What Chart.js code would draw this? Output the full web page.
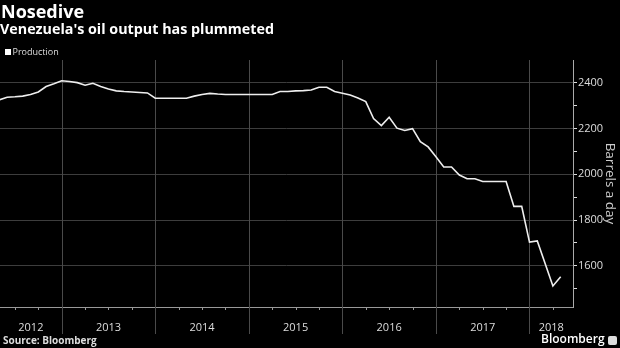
<!DOCTYPE html>
<html>
<head>
<meta charset="utf-8">
<script src="https://cdn.jsdelivr.net/npm/chart.js@4.4.1/dist/chart.umd.min.js"></script>
<style>
  html, body { margin: 0; padding: 0; background: #000; }
  #wrap { position: relative; width: 620px; height: 348px; overflow: hidden; background: #000; font-family: 'Open Sans', sans-serif; }
  #wrap canvas { position: absolute; left: 0; top: 0; }
  .txt { position: absolute; white-space: nowrap; line-height: 1; }
  #title { left: 1px; top: 2.3px; font-size: 18px; font-weight: 700; color: #fff; }
  #subtitle { left: 0px; top: 22.3px; font-size: 14.3px; font-weight: 700; color: #fff; }
  #legend { left: 12.5px; top: 47px; font-size: 9px; color: #ddd; }
  #legendBox { position: absolute; left: 4.5px; top: 49px; width: 6px; height: 6px; background: #fff; }
  #source { left: 3px; top: 334.6px; font-size: 10px; font-weight: 700; color: #ddd; }
  #brand { left: 541px; top: 332.5px; font-size: 12px; font-weight: 600; color: #fff; }
  #brandIcon { position: absolute; left: 608px; top: 336px; width: 9px; height: 9px; background: #ddd; border-radius: 2px; }
</style>
</head>
<body>
<div id="wrap">
  <canvas id="grafico" width="620" height="348"></canvas>
  <div class="txt" id="title">Nosedive</div>
  <div class="txt" id="subtitle">Venezuela's oil output has plummeted</div>
  <div id="legendBox"></div>
  <div class="txt" id="legend">Production</div>
  <div class="txt" id="source">Source: Bloomberg</div>
  <div class="txt" id="brand">Bloomberg</div>
  <div id="brandIcon"></div>
</div>
<script>
(function(){
  'use strict';

  // Datos: produccion mensual (miles de barriles/dia), may 2012 - may 2018
  const firstMonth = [2012, 5];
  const production = [
    2326, 2337, 2339, 2342, 2349, 2360, 2384, 2396,
    2409, 2406, 2401, 2390, 2398, 2384, 2373, 2365, 2362, 2360, 2358, 2356,
    2333, 2333, 2333, 2333, 2333, 2342, 2349, 2354, 2351, 2349, 2349, 2349,
    2349, 2349, 2349, 2349, 2362, 2362, 2365, 2366, 2369, 2381, 2381, 2362,
    2355, 2347, 2334, 2318, 2244, 2213, 2250, 2202, 2192, 2200, 2143, 2120,
    2077, 2032, 2032, 1997, 1981, 1981, 1969, 1969, 1969, 1969, 1860, 1860,
    1704, 1709, null, 1512, 1552
  ];
  const years = [2012, 2013, 2014, 2015, 2016, 2017, 2018];
  const yTickLabels = [1600, 1800, 2000, 2200, 2400];
  const yMinorTicks = [1500, 1700, 1900, 2100, 2300];
  const seriesLabel = 'Production';

  // Meses como posicion decimal en anos
  const months = production.map((_, i) => {
    const m = firstMonth[1] - 1 + i;
    return firstMonth[0] + Math.floor(m / 12) + (m % 12) / 12;
  });

  const xMin = 2012.3405, xMax = 2018.465;
  const yearMid = years.map(y => (Math.max(y, xMin) + Math.min(y + 1, xMax)) / 2);

  // Lineas separadoras de ano y marcas trimestrales
  const yearLines = {
    id: 'yearLines',
    beforeDatasetsDraw(chart) {
      const { ctx, chartArea, scales: { x } } = chart;
      ctx.save();
      ctx.lineWidth = 1;
      years.forEach(y => {
        for (let q = 0; q < 4; q++) {
          const v = y + q / 4;
          if (v <= xMin || v >= xMax) continue;
          const px = Math.round(x.getPixelForValue(v)) + 0.5;
          ctx.beginPath();
          if (q === 0) {
            ctx.strokeStyle = '#4a4a4a';
            ctx.moveTo(px, chartArea.top);
            ctx.lineTo(px, chartArea.bottom + 27);
          } else {
            ctx.strokeStyle = '#999';
            ctx.moveTo(px, chartArea.bottom);
            ctx.lineTo(px, chartArea.bottom + 3);
          }
          ctx.stroke();
        }
      });
      ctx.restore();
    }
  };

  const ctx = document.getElementById('grafico');
  new Chart(ctx, {
    type: 'line',
    data: {
      datasets: [{
        label: seriesLabel,
        data: months.map((m, i) => ({ x: m, y: production[i] })),
        borderColor: '#eeeeee',
        borderWidth: 1.6,
        pointRadius: 0,
        tension: 0,
        spanGaps: true
      }]
    },
    options: {
      responsive: false,
      animation: false,
      layout: { padding: { top: 60, left: 0, right: 0, bottom: 0 } },
      plugins: { legend: { display: false }, tooltip: { enabled: false } },
      scales: {
        x: {
          type: 'linear',
          min: xMin,
          max: xMax,
          afterBuildTicks: s => { s.ticks = yearMid.map(v => ({ value: v })); },
          afterFit: s => { s.height = 41; },
          grid: { display: false, drawTicks: false },
          border: { display: true, color: '#999', width: 1 },
          ticks: {
            autoSkip: false,
            maxRotation: 0,
            padding: 14,
            color: '#ddd',
            font: { family: 'Open Sans', size: 11 },
            callback: v => String(Math.floor(v))
          }
        },
        y: {
          position: 'right',
          min: 1420,
          max: 2500,
          afterBuildTicks: s => {
            s.ticks = yMinorTicks.concat(yTickLabels).sort((a, b) => a - b).map(v => ({ value: v }));
          },
          afterFit: s => { s.width = 47; },
          grid: {
            color: c => (c.tick && yTickLabels.includes(c.tick.value)) ? '#3d3d3d' : 'transparent',
            tickColor: '#ddd',
            tickLength: 4,
            lineWidth: 1
          },
          border: { display: true, color: '#aaa', width: 1 },
          ticks: {
            padding: 1,
            color: '#ddd',
            font: { family: 'Open Sans', size: 11 },
            callback: v => yTickLabels.includes(v) ? String(v) : ''
          },
          title: {
            display: true,
            text: 'Barrels a day',
            color: '#ccc',
            font: { family: 'Open Sans', size: 13.5 },
            padding: { top: 2, bottom: 2 }
          }
        }
      }
    },
    plugins: [yearLines]
  });
})();
</script>
</body>
</html>
